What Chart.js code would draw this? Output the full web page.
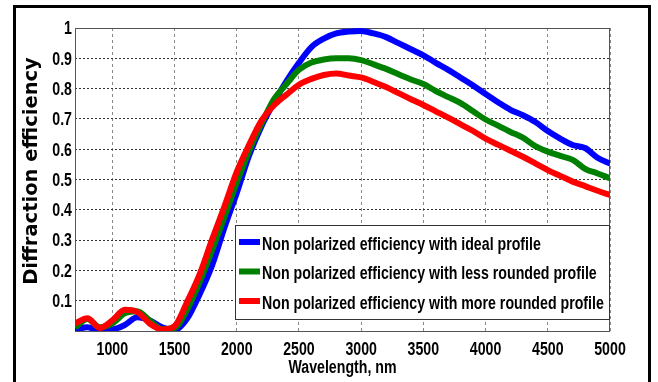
<!DOCTYPE html>
<html><head><meta charset="utf-8">
<script src="https://cdn.jsdelivr.net/npm/chart.js@4"></script>
<style>
html,body{margin:0;padding:0;background:#fff;}
#wrap{position:relative;width:658px;height:382px;overflow:hidden;}
#frame{position:absolute;left:13px;top:5px;width:638px;height:420px;border:3px solid #000;box-sizing:border-box;pointer-events:none;}
canvas{display:block;}
</style></head><body>
<div id="wrap"><canvas id="c" width="658" height="382"></canvas><div id="frame"></div></div>
<script>
const wavelengths = [700,800,900,1000,1100,1200,1300,1400,1500,1600,1700,1800,1900,2000,2100,2200,2300,2400,2500,2600,2700,2800,2900,3000,3100,3200,3300,3400,3500,3600,3700,3800,3900,4000,4100,4200,4300,4400,4500,4600,4700,4800,4900,5000];
const idealProfile = [0.005,0.012,0.003,0.005,0.02,0.045,0.035,0.012,0.003,0.04,0.12,0.215,0.34,0.455,0.58,0.677,0.755,0.825,0.885,0.937,0.965,0.982,0.988,0.99,0.982,0.97,0.95,0.93,0.91,0.885,0.862,0.836,0.81,0.782,0.755,0.73,0.712,0.69,0.66,0.635,0.614,0.604,0.572,0.553];
const lessRounded = [0.012,0.04,0.012,0.025,0.058,0.065,0.035,0.006,0.01,0.07,0.16,0.265,0.375,0.49,0.595,0.685,0.765,0.815,0.862,0.886,0.896,0.9,0.9,0.894,0.88,0.865,0.847,0.83,0.815,0.792,0.772,0.752,0.725,0.698,0.678,0.657,0.638,0.61,0.592,0.578,0.565,0.535,0.52,0.504];
const moreRounded = [0.025,0.042,0.01,0.035,0.07,0.063,0.025,0.005,0.016,0.095,0.185,0.3,0.41,0.525,0.615,0.695,0.745,0.78,0.813,0.832,0.845,0.85,0.843,0.837,0.822,0.805,0.785,0.765,0.746,0.725,0.704,0.682,0.66,0.635,0.615,0.595,0.575,0.553,0.531,0.512,0.493,0.478,0.463,0.449];
const seriesLabels = ['Non polarized efficiency with ideal profile','Non polarized efficiency with less rounded profile','Non polarized efficiency with more rounded profile'];
const xTicks = [1000,1500,2000,2500,3000,3500,4000,4500,5000];
const yTicks = [0.1,0.2,0.3,0.4,0.5,0.6,0.7,0.8,0.9,1];
const xTitle = 'Wavelength, nm';
const yTitle = 'Diffraction efficiency';

const colors = ['#0000ff','#008000','#ff0000'];
const seriesValues = [idealProfile, lessRounded, moreRounded];

// condensed bold text (Arial Narrow look) drawn on the canvas
function narrowText(ctx, text, x, y, align, size){
  ctx.save();
  ctx.translate(x, y);
  ctx.scale(0.81, 1);
  ctx.font = "bold " + size + "px 'Liberation Sans',Arial,sans-serif";
  ctx.textAlign = align;
  ctx.textBaseline = 'alphabetic';
  ctx.fillStyle = '#000';
  ctx.fillText(text, 0, 0);
  ctx.restore();
}

const datasets = seriesValues.map((vals,i)=>({
  label: seriesLabels[i],
  data: wavelengths.map((w,j)=>({x:w,y:vals[j]})),
  borderColor: colors[i],
  backgroundColor: colors[i],
  borderWidth: 6,
  pointRadius: 0,
  cubicInterpolationMode: 'monotone',
  borderJoinStyle: 'round',
  borderCapStyle: 'butt',
  fill: false,
  order: 3-i
}));

const framePlugin = {
  id:'frame',
  beforeDatasetsDraw(chart){
    const {ctx, chartArea:a} = chart;
    ctx.save();
    ctx.strokeStyle = '#555';
    ctx.lineWidth = 1;
    ctx.strokeRect(a.left+0.5, a.top+0.5, a.right-a.left-1, a.bottom-a.top);
    ctx.restore();
  },
  afterDatasetsDraw(chart){
    const {ctx, chartArea:a} = chart;
    const xs = chart.scales.x, ys = chart.scales.y;
    // tick labels
    xTicks.forEach(v => narrowText(ctx, String(v), xs.getPixelForValue(v), 355, 'center', 17.5));
    yTicks.forEach(v => narrowText(ctx, String(v), (a.left-3)/0.81*0.81, ys.getPixelForValue(v)+6.3, 'right', 17.5));
    // legend box
    const L = 235, T = 225, R = a.right, B = 319;
    ctx.save();
    ctx.fillStyle = '#fff';
    ctx.fillRect(L, T, R-L, B-T);
    ctx.strokeStyle = '#333';
    ctx.lineWidth = 1;
    ctx.strokeRect(L+0.5, T+0.5, R-L-1, B-T);
    ctx.restore();
    chart.data.datasets.forEach((ds,i)=>{
      const y = 242 + i*29.5;
      ctx.save();
      ctx.strokeStyle = ds.borderColor;
      ctx.lineWidth = 6;
      ctx.beginPath(); ctx.moveTo(239,y); ctx.lineTo(260,y); ctx.stroke();
      ctx.restore();
      narrowText(ctx, ds.label, 262, y+7.5, 'left', 17.5);
    });
    // axis titles
    narrowText(ctx, xTitle, (a.left+a.right)/2, 373, 'center', 17.5);
    ctx.save();
    ctx.fillStyle = '#000';
    ctx.textAlign = 'center';
    ctx.textBaseline = 'middle';
    ctx.translate(32, 171);
    ctx.rotate(-Math.PI/2);
    ctx.font = "bold 19.5px 'DejaVu Sans',sans-serif";
    ctx.fillText(yTitle, 0, 0);
    ctx.restore();
  }
};

new Chart(document.getElementById('c'), {
  type: 'line',
  data: { datasets },
  options: {
    responsive: false,
    devicePixelRatio: 1,
    animation: false,
    layout: { padding: { left: 0, top: 28, right: 48, bottom: 0 } },
    plugins: { legend: { display: false }, tooltip: { enabled: false } },
    scales: {
      x: {
        type: 'linear', min: 700, max: 5000,
        afterBuildTicks: s => { s.ticks = xTicks.map(v=>({value:v})); },
        afterFit: s => { s.height = 51; },
        grid: { color: '#888', lineWidth: 1, drawTicks: false },
        border: { display: false, dash: [3,3] },
        ticks: { display: false }
      },
      y: {
        type: 'linear', min: 0, max: 1,
        afterBuildTicks: s => { s.ticks = yTicks.map(v=>({value:v})); },
        afterFit: s => { s.width = 75; },
        grid: { color: '#333', lineWidth: 1, drawTicks: false },
        border: { display: false, dash: [2,2] },
        ticks: { display: false }
      }
    }
  },
  plugins: [framePlugin]
});
</script>
</body></html>
